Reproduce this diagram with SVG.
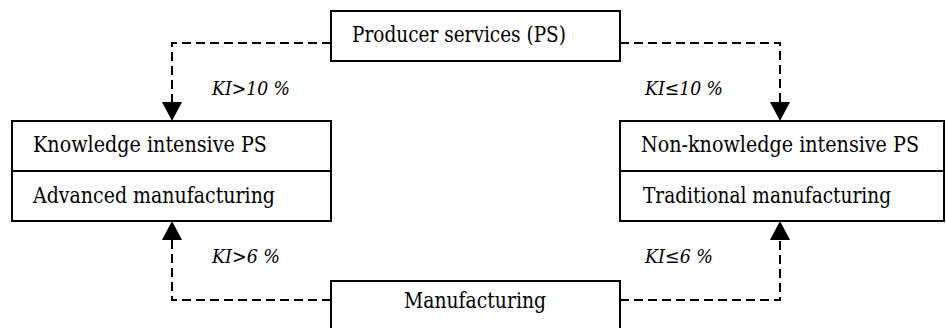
<svg xmlns="http://www.w3.org/2000/svg" width="946" height="328" viewBox="0 0 946 328">
<style>
.box{fill:#fff;stroke:#000;stroke-width:2}
.t{font-family:'DejaVu Serif','Liberation Serif',serif;font-size:22px;fill:#000}
.l{font-family:'DejaVu Serif','Liberation Serif',serif;font-size:19px;font-style:italic;fill:#000}
.c{fill:none;stroke:#000;stroke-width:2;stroke-dasharray:9 5}
</style>
<defs>
<marker id="ah" markerUnits="userSpaceOnUse" markerWidth="20" markerHeight="20" viewBox="0 0 20 20" refX="19" refY="10" orient="auto">
<path d="M0,0 L19,10 L0,20 Z" fill="#000"/>
</marker>
</defs>
<rect width="946" height="328" fill="#fff"/>
<g id="connectors">
<path class="c" d="M331,43 H172 V121" marker-end="url(#ah)"/>
<path class="c" d="M620,43 H780 V121" marker-end="url(#ah)"/>
<path class="c" d="M331,300 H172 V221" marker-end="url(#ah)"/>
<path class="c" d="M620,300 H780 V221" marker-end="url(#ah)"/>
<text class="l" x="212" y="95" textLength="78" lengthAdjust="spacingAndGlyphs">KI&gt;10 %</text>
<text class="l" x="645" y="95" textLength="78" lengthAdjust="spacingAndGlyphs">KI≤10 %</text>
<text class="l" x="212" y="263" textLength="68" lengthAdjust="spacingAndGlyphs">KI&gt;6 %</text>
<text class="l" x="645" y="263" textLength="68" lengthAdjust="spacingAndGlyphs">KI≤6 %</text>
</g>
<g id="producer-services">
<rect class="box" x="331" y="11" width="289" height="50"/>
<text class="t" x="352" y="42" textLength="214" lengthAdjust="spacingAndGlyphs">Producer services (PS)</text>
</g>
<g id="knowledge-intensive">
<rect class="box" x="12" y="121" width="319" height="100"/>
<line x1="12" y1="171" x2="331" y2="171" stroke="#000" stroke-width="2"/>
<text class="t" x="33" y="152" textLength="234" lengthAdjust="spacingAndGlyphs">Knowledge intensive PS</text>
<text class="t" x="33" y="203" textLength="242" lengthAdjust="spacingAndGlyphs">Advanced manufacturing</text>
</g>
<g id="non-knowledge-intensive">
<rect class="box" x="620" y="121" width="324" height="100"/>
<line x1="620" y1="171" x2="944" y2="171" stroke="#000" stroke-width="2"/>
<text class="t" x="641" y="152" textLength="278" lengthAdjust="spacingAndGlyphs">Non-knowledge intensive PS</text>
<text class="t" x="643" y="203" textLength="248" lengthAdjust="spacingAndGlyphs">Traditional manufacturing</text>
</g>
<g id="manufacturing">
<rect class="box" x="331" y="281" width="289" height="60"/>
<text class="t" x="404" y="308" textLength="142" lengthAdjust="spacingAndGlyphs">Manufacturing</text>
</g>
</svg>
